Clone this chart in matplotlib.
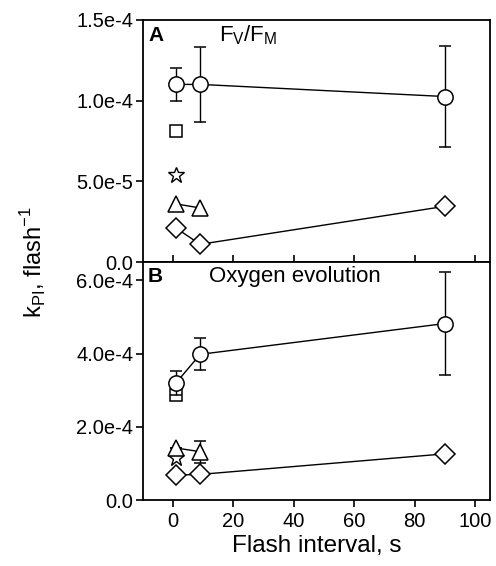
import matplotlib
matplotlib.use('Agg')
import matplotlib.pyplot as plt

plt.rcParams['font.family'] = ['Liberation Sans', 'DejaVu Sans']

# panel A: Fv/Fm
a_circ_x = [1, 9, 90]
a_circ_y = [1.10e-4, 1.10e-4, 1.025e-4]
a_circ_err = [1.0e-5, 2.3e-5, 3.1e-5]
a_sq_x = [1]
a_sq_y = [0.81e-4]
a_star_x = [1]
a_star_y = [0.54e-4]
a_tri_x = [1, 9]
a_tri_y = [0.36e-4, 0.335e-4]
a_dia_x = [1, 9, 90]
a_dia_y = [0.21e-4, 0.11e-4, 0.345e-4]

# panel B: oxygen evolution
b_circ_x = [1, 9, 90]
b_circ_y = [3.2e-4, 3.98e-4, 4.82e-4]
b_circ_err = [3.2e-5, 4.4e-5, 1.4e-4]
b_sq_x = [1]
b_sq_y = [2.88e-4]
b_sq_err = [1.6e-5]
b_star_x = [1]
b_star_y = [1.14e-4]
b_tri_x = [1, 9]
b_tri_y = [1.42e-4, 1.32e-4]
b_tri_err = [0, 3.0e-5]
b_dia_x = [1, 9, 90]
b_dia_y = [0.68e-4, 0.70e-4, 1.26e-4]

mk = dict(mfc='white', mec='black', color='black', lw=1, mew=1.1)
eb = dict(ecolor='black', elinewidth=1, capsize=4, capthick=1)

fig = plt.figure(figsize=(4.96, 5.66), dpi=100)
axA = fig.add_axes([0.288, 0.537, 0.700, 0.428])
axB = fig.add_axes([0.288, 0.1166, 0.700, 0.4204])

# panel A
axA.errorbar(a_circ_x, a_circ_y, yerr=a_circ_err, marker='o', ms=11, **mk, **eb, zorder=3)
axA.plot(a_sq_x, a_sq_y, marker='s', ms=9, ls='none', **mk)
axA.plot(a_star_x, a_star_y, marker='*', ms=12, ls='none', mfc='white', mec='black', mew=1)
axA.plot(a_tri_x, a_tri_y, marker='^', ms=11, **mk)
axA.plot(a_dia_x, a_dia_y, marker='D', ms=10, **mk)
axA.set_ylim(0, 1.5e-4)
axA.set_yticks([0, 5e-5, 1e-4, 1.5e-4])
axA.set_yticklabels(['0.0', '5.0e-5', '1.0e-4', '1.5e-4'])
axA.text(0.015, 0.935, 'A', transform=axA.transAxes, fontsize=15, fontweight='bold', va='center')
axA.text(0.22, 0.935, r'F$_\mathregular{V}$/F$_\mathregular{M}$', transform=axA.transAxes,
         fontsize=16, va='center')

# panel B
axB.errorbar(b_circ_x, b_circ_y, yerr=b_circ_err, marker='o', ms=11, **mk, **eb, zorder=3)
axB.errorbar(b_sq_x, b_sq_y, yerr=b_sq_err, marker='s', ms=9, ls='none', **mk, **eb, zorder=2)
axB.plot(b_star_x, b_star_y, marker='*', ms=12, ls='none', mfc='white', mec='black', mew=1)
axB.errorbar(b_tri_x, b_tri_y, yerr=b_tri_err, marker='^', ms=11, **mk, **eb)
axB.plot(b_dia_x, b_dia_y, marker='D', ms=10, **mk)
axB.set_ylim(0, 6.5e-4)
axB.set_yticks([0, 2e-4, 4e-4, 6e-4])
axB.set_yticklabels(['0.0', '2.0e-4', '4.0e-4', '6.0e-4'])
axB.text(0.015, 0.94, 'B', transform=axB.transAxes, fontsize=15, fontweight='bold', va='center')
axB.text(0.19, 0.94, 'Oxygen evolution', transform=axB.transAxes, fontsize=16, va='center')

for ax in (axA, axB):
    ax.set_xlim(-10, 105)
    ax.set_xticks([0, 20, 40, 60, 80, 100])
    for s in ax.spines.values():
        s.set_linewidth(1.3)
    ax.tick_params(axis='y', direction='out', length=5, width=1.2, labelsize=14.5, pad=2)
    ax.tick_params(axis='x', length=5, width=1.2, labelsize=14.5)

axA.tick_params(axis='x', direction='in', labelbottom=False)
axB.tick_params(axis='x', direction='out')
axB.set_xlabel('Flash interval, s', fontsize=17.5, labelpad=3)
fig.text(0.068, 0.537, r'k$_\mathregular{PI}$, flash$^\mathregular{-1}$', rotation=90,
         fontsize=17, ha='center', va='center')

fig.savefig('out.png', dpi=100)
